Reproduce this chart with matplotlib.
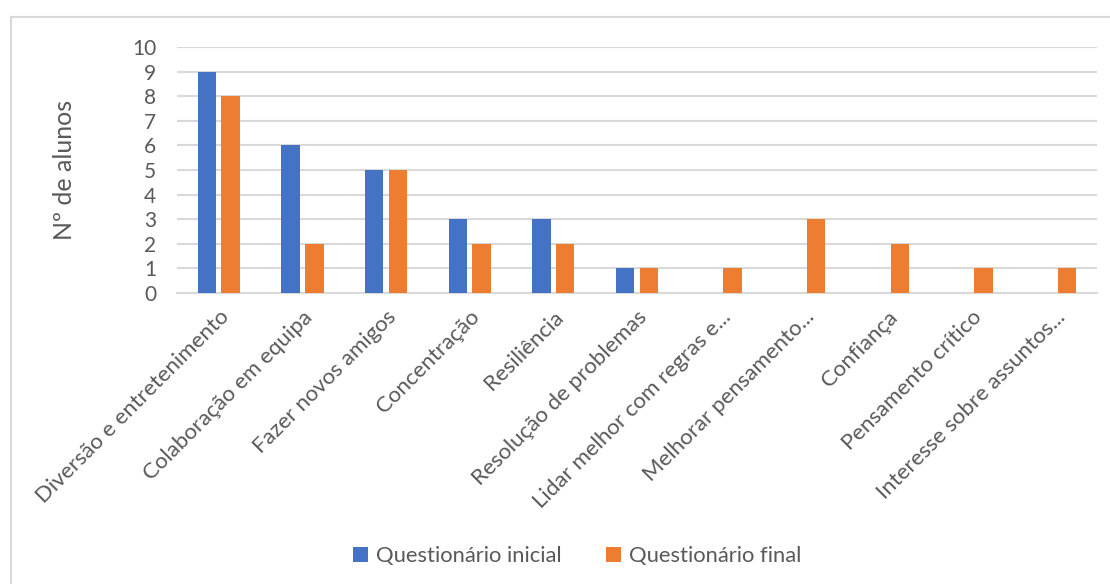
import numpy as np
import matplotlib
matplotlib.use('Agg')
import matplotlib.pyplot as plt
from matplotlib.lines import Line2D

# Respostas dos alunos por categoria
categorias = ['Diversão e entretenimento', 'Colaboração em equipa',
              'Fazer novos amigos', 'Concentração', 'Resiliência',
              'Resolução de problemas', 'Lidar melhor com regras e...',
              'Melhorar pensamento...', 'Confiança', 'Pensamento crítico',
              'Interesse sobre assuntos...']
inicial = [9, 6, 5, 3, 3, 1, 0, 0, 0, 0, 0]
final = [8, 2, 5, 2, 2, 1, 1, 3, 2, 1, 1]
series = ['Questionário inicial', 'Questionário final']

AZUL = '#4472C4'
LARANJA = '#ED7D31'
CINZA_TXT = '#595959'
CINZA_LINHA = '#D9D9D9'

plt.rcParams['font.family'] = ['Lato', 'DejaVu Sans']

W, H = 1110, 584
fig = plt.figure(figsize=(W / 100, H / 100), dpi=100)
ax = fig.add_axes([177 / W, 1 - 293 / H, (1097 - 177) / W, (293 - 47) / H])

x = np.arange(len(categorias))
larg = 0.22
ax.bar(x - 0.142, inicial, larg, color=AZUL, label=series[0], zorder=3)
ax.bar(x + 0.142, final, larg, color=LARANJA, label=series[1], zorder=3)

ax.set_xlim(-0.5, len(categorias) - 0.5)
ax.set_ylim(0, 10)
ax.set_yticks(range(0, 11))
ax.yaxis.grid(True, color=CINZA_LINHA, linewidth=1.5, zorder=0)
ax.set_axisbelow(True)
for s in ['top', 'right', 'left']:
    ax.spines[s].set_visible(False)
ax.spines['bottom'].set_color(CINZA_LINHA)
ax.spines['bottom'].set_linewidth(1.5)
ax.tick_params(axis='both', length=0, colors=CINZA_TXT, labelsize=15)
ax.tick_params(axis='y', pad=15)

ax.set_xticks(x)
ax.set_xticklabels(categorias, rotation=45, ha='right', va='top',
                   rotation_mode='anchor', fontsize=16)
ax.tick_params(axis='x', pad=10)

ax.set_ylabel('Nº de alunos', fontsize=18, color=CINZA_TXT, labelpad=40)

fig.legend(loc='center', bbox_to_anchor=(577 / W, 1 - 556 / H), ncol=2,
           frameon=False, fontsize=15.8, handlelength=0.7, handleheight=0.7,
           handletextpad=0.35, columnspacing=2.0, labelcolor=CINZA_TXT)

# moldura do gráfico
fig.add_artist(Line2D([11 / W, 11 / W], [0, 1 - 17 / H], color=CINZA_LINHA,
                      linewidth=1.5, transform=fig.transFigure))
fig.add_artist(Line2D([11 / W, 1], [1 - 17 / H, 1 - 17 / H], color=CINZA_LINHA,
                      linewidth=1.5, transform=fig.transFigure))

fig.savefig('out.png', dpi=100, facecolor='white')
